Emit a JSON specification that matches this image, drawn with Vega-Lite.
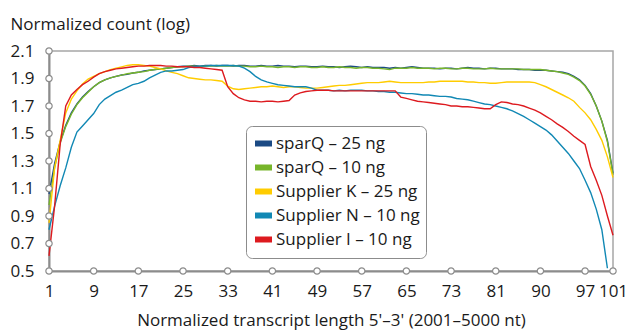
{
 "$schema": "https://vega.github.io/schema/vega-lite/v6.json",
 "width": 564, "height": 220,
 "autosize": "none",
 "padding": {"left": 49, "top": 51, "right": 14, "bottom": 60},
 "background": "white",
 "config": {"font": "Open Sans", "view": {"stroke": "#a6a6a6", "strokeWidth": 1.5}, "axis": {"labelOverlap": false}},
 "datasets": {
  "curves": [
{"series":"sparQ – 25 ng","pos":1,"value":1.06},{"series":"sparQ – 25 ng","pos":2,"value":1.28},{"series":"sparQ – 25 ng","pos":3,"value":1.44},{"series":"sparQ – 25 ng","pos":4,"value":1.56},{"series":"sparQ – 25 ng","pos":5,"value":1.65},{"series":"sparQ – 25 ng","pos":6,"value":1.715},{"series":"sparQ – 25 ng","pos":7,"value":1.765},{"series":"sparQ – 25 ng","pos":8,"value":1.805},{"series":"sparQ – 25 ng","pos":9,"value":1.84},{"series":"sparQ – 25 ng","pos":10,"value":1.87},
{"series":"sparQ – 25 ng","pos":11,"value":1.89},{"series":"sparQ – 25 ng","pos":12,"value":1.905},{"series":"sparQ – 25 ng","pos":13,"value":1.915},{"series":"sparQ – 25 ng","pos":14,"value":1.925},{"series":"sparQ – 25 ng","pos":15,"value":1.93},{"series":"sparQ – 25 ng","pos":16,"value":1.94},{"series":"sparQ – 25 ng","pos":17,"value":1.945},{"series":"sparQ – 25 ng","pos":18,"value":1.955},{"series":"sparQ – 25 ng","pos":19,"value":1.96},{"series":"sparQ – 25 ng","pos":20,"value":1.965},
{"series":"sparQ – 25 ng","pos":21,"value":1.97},{"series":"sparQ – 25 ng","pos":22,"value":1.975},{"series":"sparQ – 25 ng","pos":23,"value":1.98},{"series":"sparQ – 25 ng","pos":24,"value":1.985},{"series":"sparQ – 25 ng","pos":25,"value":1.99},{"series":"sparQ – 25 ng","pos":26,"value":1.99},{"series":"sparQ – 25 ng","pos":27,"value":1.995},{"series":"sparQ – 25 ng","pos":28,"value":1.99},{"series":"sparQ – 25 ng","pos":29,"value":1.995},{"series":"sparQ – 25 ng","pos":30,"value":1.995},
{"series":"sparQ – 25 ng","pos":31,"value":1.99},{"series":"sparQ – 25 ng","pos":32,"value":1.995},{"series":"sparQ – 25 ng","pos":33,"value":1.995},{"series":"sparQ – 25 ng","pos":34,"value":1.99},{"series":"sparQ – 25 ng","pos":35,"value":1.995},{"series":"sparQ – 25 ng","pos":36,"value":1.995},{"series":"sparQ – 25 ng","pos":37,"value":1.99},{"series":"sparQ – 25 ng","pos":38,"value":1.99},{"series":"sparQ – 25 ng","pos":39,"value":1.995},{"series":"sparQ – 25 ng","pos":40,"value":1.99},
{"series":"sparQ – 25 ng","pos":41,"value":1.99},{"series":"sparQ – 25 ng","pos":42,"value":1.995},{"series":"sparQ – 25 ng","pos":43,"value":1.99},{"series":"sparQ – 25 ng","pos":44,"value":1.99},{"series":"sparQ – 25 ng","pos":45,"value":1.985},{"series":"sparQ – 25 ng","pos":46,"value":1.99},{"series":"sparQ – 25 ng","pos":47,"value":1.99},{"series":"sparQ – 25 ng","pos":48,"value":1.985},{"series":"sparQ – 25 ng","pos":49,"value":1.985},{"series":"sparQ – 25 ng","pos":50,"value":1.99},
{"series":"sparQ – 25 ng","pos":51,"value":1.985},{"series":"sparQ – 25 ng","pos":52,"value":1.985},{"series":"sparQ – 25 ng","pos":53,"value":1.98},{"series":"sparQ – 25 ng","pos":54,"value":1.985},{"series":"sparQ – 25 ng","pos":55,"value":1.99},{"series":"sparQ – 25 ng","pos":56,"value":1.985},{"series":"sparQ – 25 ng","pos":57,"value":1.98},{"series":"sparQ – 25 ng","pos":58,"value":1.985},{"series":"sparQ – 25 ng","pos":59,"value":1.98},{"series":"sparQ – 25 ng","pos":60,"value":1.98},
{"series":"sparQ – 25 ng","pos":61,"value":1.98},{"series":"sparQ – 25 ng","pos":62,"value":1.975},{"series":"sparQ – 25 ng","pos":63,"value":1.98},{"series":"sparQ – 25 ng","pos":64,"value":1.975},{"series":"sparQ – 25 ng","pos":65,"value":1.98},{"series":"sparQ – 25 ng","pos":66,"value":1.985},{"series":"sparQ – 25 ng","pos":67,"value":1.98},{"series":"sparQ – 25 ng","pos":68,"value":1.975},{"series":"sparQ – 25 ng","pos":69,"value":1.975},{"series":"sparQ – 25 ng","pos":70,"value":1.975},
{"series":"sparQ – 25 ng","pos":71,"value":1.97},{"series":"sparQ – 25 ng","pos":72,"value":1.975},{"series":"sparQ – 25 ng","pos":73,"value":1.975},{"series":"sparQ – 25 ng","pos":74,"value":1.97},{"series":"sparQ – 25 ng","pos":75,"value":1.975},{"series":"sparQ – 25 ng","pos":76,"value":1.98},{"series":"sparQ – 25 ng","pos":77,"value":1.975},{"series":"sparQ – 25 ng","pos":78,"value":1.975},{"series":"sparQ – 25 ng","pos":79,"value":1.97},{"series":"sparQ – 25 ng","pos":80,"value":1.975},
{"series":"sparQ – 25 ng","pos":81,"value":1.975},{"series":"sparQ – 25 ng","pos":82,"value":1.97},{"series":"sparQ – 25 ng","pos":83,"value":1.97},{"series":"sparQ – 25 ng","pos":84,"value":1.97},{"series":"sparQ – 25 ng","pos":85,"value":1.965},{"series":"sparQ – 25 ng","pos":86,"value":1.965},{"series":"sparQ – 25 ng","pos":87,"value":1.965},{"series":"sparQ – 25 ng","pos":88,"value":1.96},{"series":"sparQ – 25 ng","pos":89,"value":1.96},{"series":"sparQ – 25 ng","pos":90,"value":1.96},
{"series":"sparQ – 25 ng","pos":91,"value":1.955},{"series":"sparQ – 25 ng","pos":92,"value":1.95},{"series":"sparQ – 25 ng","pos":93,"value":1.945},{"series":"sparQ – 25 ng","pos":94,"value":1.935},{"series":"sparQ – 25 ng","pos":95,"value":1.915},{"series":"sparQ – 25 ng","pos":96,"value":1.89},{"series":"sparQ – 25 ng","pos":97,"value":1.85},{"series":"sparQ – 25 ng","pos":98,"value":1.79},{"series":"sparQ – 25 ng","pos":99,"value":1.7},{"series":"sparQ – 25 ng","pos":100,"value":1.59},
{"series":"sparQ – 25 ng","pos":101,"value":1.45},{"series":"sparQ – 25 ng","pos":102,"value":1.21},

{"series":"sparQ – 10 ng","pos":1,"value":0.98},{"series":"sparQ – 10 ng","pos":2,"value":1.25},{"series":"sparQ – 10 ng","pos":3,"value":1.43},{"series":"sparQ – 10 ng","pos":4,"value":1.55},{"series":"sparQ – 10 ng","pos":5,"value":1.64},{"series":"sparQ – 10 ng","pos":6,"value":1.71},{"series":"sparQ – 10 ng","pos":7,"value":1.76},{"series":"sparQ – 10 ng","pos":8,"value":1.8},{"series":"sparQ – 10 ng","pos":9,"value":1.84},{"series":"sparQ – 10 ng","pos":10,"value":1.87},
{"series":"sparQ – 10 ng","pos":11,"value":1.89},{"series":"sparQ – 10 ng","pos":12,"value":1.905},{"series":"sparQ – 10 ng","pos":13,"value":1.915},{"series":"sparQ – 10 ng","pos":14,"value":1.925},{"series":"sparQ – 10 ng","pos":15,"value":1.935},{"series":"sparQ – 10 ng","pos":16,"value":1.94},{"series":"sparQ – 10 ng","pos":17,"value":1.945},{"series":"sparQ – 10 ng","pos":18,"value":1.95},{"series":"sparQ – 10 ng","pos":19,"value":1.96},{"series":"sparQ – 10 ng","pos":20,"value":1.965},
{"series":"sparQ – 10 ng","pos":21,"value":1.97},{"series":"sparQ – 10 ng","pos":22,"value":1.975},{"series":"sparQ – 10 ng","pos":23,"value":1.98},{"series":"sparQ – 10 ng","pos":24,"value":1.985},{"series":"sparQ – 10 ng","pos":25,"value":1.985},{"series":"sparQ – 10 ng","pos":26,"value":1.99},{"series":"sparQ – 10 ng","pos":27,"value":1.99},{"series":"sparQ – 10 ng","pos":28,"value":1.985},{"series":"sparQ – 10 ng","pos":29,"value":1.99},{"series":"sparQ – 10 ng","pos":30,"value":1.99},
{"series":"sparQ – 10 ng","pos":31,"value":1.995},{"series":"sparQ – 10 ng","pos":32,"value":1.99},{"series":"sparQ – 10 ng","pos":33,"value":1.99},{"series":"sparQ – 10 ng","pos":34,"value":1.995},{"series":"sparQ – 10 ng","pos":35,"value":1.99},{"series":"sparQ – 10 ng","pos":36,"value":1.99},{"series":"sparQ – 10 ng","pos":37,"value":1.985},{"series":"sparQ – 10 ng","pos":38,"value":1.985},{"series":"sparQ – 10 ng","pos":39,"value":1.99},{"series":"sparQ – 10 ng","pos":40,"value":1.985},
{"series":"sparQ – 10 ng","pos":41,"value":1.985},{"series":"sparQ – 10 ng","pos":42,"value":1.98},{"series":"sparQ – 10 ng","pos":43,"value":1.985},{"series":"sparQ – 10 ng","pos":44,"value":1.985},{"series":"sparQ – 10 ng","pos":45,"value":1.98},{"series":"sparQ – 10 ng","pos":46,"value":1.985},{"series":"sparQ – 10 ng","pos":47,"value":1.985},{"series":"sparQ – 10 ng","pos":48,"value":1.98},{"series":"sparQ – 10 ng","pos":49,"value":1.98},{"series":"sparQ – 10 ng","pos":50,"value":1.985},
{"series":"sparQ – 10 ng","pos":51,"value":1.98},{"series":"sparQ – 10 ng","pos":52,"value":1.98},{"series":"sparQ – 10 ng","pos":53,"value":1.985},{"series":"sparQ – 10 ng","pos":54,"value":1.98},{"series":"sparQ – 10 ng","pos":55,"value":1.98},{"series":"sparQ – 10 ng","pos":56,"value":1.975},{"series":"sparQ – 10 ng","pos":57,"value":1.98},{"series":"sparQ – 10 ng","pos":58,"value":1.98},{"series":"sparQ – 10 ng","pos":59,"value":1.975},{"series":"sparQ – 10 ng","pos":60,"value":1.975},
{"series":"sparQ – 10 ng","pos":61,"value":1.97},{"series":"sparQ – 10 ng","pos":62,"value":1.965},{"series":"sparQ – 10 ng","pos":63,"value":1.975},{"series":"sparQ – 10 ng","pos":64,"value":1.975},{"series":"sparQ – 10 ng","pos":65,"value":1.975},{"series":"sparQ – 10 ng","pos":66,"value":1.98},{"series":"sparQ – 10 ng","pos":67,"value":1.975},{"series":"sparQ – 10 ng","pos":68,"value":1.975},{"series":"sparQ – 10 ng","pos":69,"value":1.975},{"series":"sparQ – 10 ng","pos":70,"value":1.97},
{"series":"sparQ – 10 ng","pos":71,"value":1.975},{"series":"sparQ – 10 ng","pos":72,"value":1.975},{"series":"sparQ – 10 ng","pos":73,"value":1.97},{"series":"sparQ – 10 ng","pos":74,"value":1.97},{"series":"sparQ – 10 ng","pos":75,"value":1.975},{"series":"sparQ – 10 ng","pos":76,"value":1.975},{"series":"sparQ – 10 ng","pos":77,"value":1.97},{"series":"sparQ – 10 ng","pos":78,"value":1.97},{"series":"sparQ – 10 ng","pos":79,"value":1.97},{"series":"sparQ – 10 ng","pos":80,"value":1.975},
{"series":"sparQ – 10 ng","pos":81,"value":1.97},{"series":"sparQ – 10 ng","pos":82,"value":1.97},{"series":"sparQ – 10 ng","pos":83,"value":1.97},{"series":"sparQ – 10 ng","pos":84,"value":1.97},{"series":"sparQ – 10 ng","pos":85,"value":1.97},{"series":"sparQ – 10 ng","pos":86,"value":1.965},{"series":"sparQ – 10 ng","pos":87,"value":1.965},{"series":"sparQ – 10 ng","pos":88,"value":1.965},{"series":"sparQ – 10 ng","pos":89,"value":1.965},{"series":"sparQ – 10 ng","pos":90,"value":1.96},
{"series":"sparQ – 10 ng","pos":91,"value":1.955},{"series":"sparQ – 10 ng","pos":92,"value":1.95},{"series":"sparQ – 10 ng","pos":93,"value":1.94},{"series":"sparQ – 10 ng","pos":94,"value":1.93},{"series":"sparQ – 10 ng","pos":95,"value":1.91},{"series":"sparQ – 10 ng","pos":96,"value":1.885},{"series":"sparQ – 10 ng","pos":97,"value":1.845},{"series":"sparQ – 10 ng","pos":98,"value":1.785},{"series":"sparQ – 10 ng","pos":99,"value":1.7},{"series":"sparQ – 10 ng","pos":100,"value":1.59},
{"series":"sparQ – 10 ng","pos":101,"value":1.44},{"series":"sparQ – 10 ng","pos":102,"value":1.2},

{"series":"Supplier K – 25 ng","pos":1,"value":0.85},{"series":"Supplier K – 25 ng","pos":2,"value":1.25},{"series":"Supplier K – 25 ng","pos":3,"value":1.45},{"series":"Supplier K – 25 ng","pos":4,"value":1.65},{"series":"Supplier K – 25 ng","pos":5,"value":1.75},{"series":"Supplier K – 25 ng","pos":6,"value":1.81},{"series":"Supplier K – 25 ng","pos":7,"value":1.86},{"series":"Supplier K – 25 ng","pos":8,"value":1.895},{"series":"Supplier K – 25 ng","pos":9,"value":1.915},{"series":"Supplier K – 25 ng","pos":10,"value":1.935},
{"series":"Supplier K – 25 ng","pos":11,"value":1.95},{"series":"Supplier K – 25 ng","pos":12,"value":1.965},{"series":"Supplier K – 25 ng","pos":13,"value":1.975},{"series":"Supplier K – 25 ng","pos":14,"value":1.985},{"series":"Supplier K – 25 ng","pos":15,"value":1.995},{"series":"Supplier K – 25 ng","pos":16,"value":2.0},{"series":"Supplier K – 25 ng","pos":17,"value":2.0},{"series":"Supplier K – 25 ng","pos":18,"value":1.995},{"series":"Supplier K – 25 ng","pos":19,"value":1.99},{"series":"Supplier K – 25 ng","pos":20,"value":1.98},
{"series":"Supplier K – 25 ng","pos":21,"value":1.97},{"series":"Supplier K – 25 ng","pos":22,"value":1.955},{"series":"Supplier K – 25 ng","pos":23,"value":1.945},{"series":"Supplier K – 25 ng","pos":24,"value":1.935},{"series":"Supplier K – 25 ng","pos":25,"value":1.92},{"series":"Supplier K – 25 ng","pos":26,"value":1.905},{"series":"Supplier K – 25 ng","pos":27,"value":1.9},{"series":"Supplier K – 25 ng","pos":28,"value":1.895},{"series":"Supplier K – 25 ng","pos":29,"value":1.89},{"series":"Supplier K – 25 ng","pos":30,"value":1.89},
{"series":"Supplier K – 25 ng","pos":31,"value":1.885},{"series":"Supplier K – 25 ng","pos":32,"value":1.88},{"series":"Supplier K – 25 ng","pos":33,"value":1.845},{"series":"Supplier K – 25 ng","pos":34,"value":1.825},{"series":"Supplier K – 25 ng","pos":35,"value":1.82},{"series":"Supplier K – 25 ng","pos":36,"value":1.825},{"series":"Supplier K – 25 ng","pos":37,"value":1.83},{"series":"Supplier K – 25 ng","pos":38,"value":1.835},{"series":"Supplier K – 25 ng","pos":39,"value":1.84},{"series":"Supplier K – 25 ng","pos":40,"value":1.84},
{"series":"Supplier K – 25 ng","pos":41,"value":1.845},{"series":"Supplier K – 25 ng","pos":42,"value":1.84},{"series":"Supplier K – 25 ng","pos":43,"value":1.835},{"series":"Supplier K – 25 ng","pos":44,"value":1.84},{"series":"Supplier K – 25 ng","pos":45,"value":1.84},{"series":"Supplier K – 25 ng","pos":46,"value":1.835},{"series":"Supplier K – 25 ng","pos":47,"value":1.83},{"series":"Supplier K – 25 ng","pos":48,"value":1.83},{"series":"Supplier K – 25 ng","pos":49,"value":1.83},{"series":"Supplier K – 25 ng","pos":50,"value":1.835},
{"series":"Supplier K – 25 ng","pos":51,"value":1.84},{"series":"Supplier K – 25 ng","pos":52,"value":1.845},{"series":"Supplier K – 25 ng","pos":53,"value":1.85},{"series":"Supplier K – 25 ng","pos":54,"value":1.85},{"series":"Supplier K – 25 ng","pos":55,"value":1.855},{"series":"Supplier K – 25 ng","pos":56,"value":1.86},{"series":"Supplier K – 25 ng","pos":57,"value":1.865},{"series":"Supplier K – 25 ng","pos":58,"value":1.87},{"series":"Supplier K – 25 ng","pos":59,"value":1.87},{"series":"Supplier K – 25 ng","pos":60,"value":1.87},
{"series":"Supplier K – 25 ng","pos":61,"value":1.875},{"series":"Supplier K – 25 ng","pos":62,"value":1.88},{"series":"Supplier K – 25 ng","pos":63,"value":1.875},{"series":"Supplier K – 25 ng","pos":64,"value":1.87},{"series":"Supplier K – 25 ng","pos":65,"value":1.87},{"series":"Supplier K – 25 ng","pos":66,"value":1.87},{"series":"Supplier K – 25 ng","pos":67,"value":1.87},{"series":"Supplier K – 25 ng","pos":68,"value":1.87},{"series":"Supplier K – 25 ng","pos":69,"value":1.875},{"series":"Supplier K – 25 ng","pos":70,"value":1.875},
{"series":"Supplier K – 25 ng","pos":71,"value":1.88},{"series":"Supplier K – 25 ng","pos":72,"value":1.88},{"series":"Supplier K – 25 ng","pos":73,"value":1.88},{"series":"Supplier K – 25 ng","pos":74,"value":1.88},{"series":"Supplier K – 25 ng","pos":75,"value":1.88},{"series":"Supplier K – 25 ng","pos":76,"value":1.875},{"series":"Supplier K – 25 ng","pos":77,"value":1.875},{"series":"Supplier K – 25 ng","pos":78,"value":1.87},{"series":"Supplier K – 25 ng","pos":79,"value":1.87},{"series":"Supplier K – 25 ng","pos":80,"value":1.865},
{"series":"Supplier K – 25 ng","pos":81,"value":1.865},{"series":"Supplier K – 25 ng","pos":82,"value":1.87},{"series":"Supplier K – 25 ng","pos":83,"value":1.875},{"series":"Supplier K – 25 ng","pos":84,"value":1.875},{"series":"Supplier K – 25 ng","pos":85,"value":1.875},{"series":"Supplier K – 25 ng","pos":86,"value":1.875},{"series":"Supplier K – 25 ng","pos":87,"value":1.875},{"series":"Supplier K – 25 ng","pos":88,"value":1.87},{"series":"Supplier K – 25 ng","pos":89,"value":1.855},{"series":"Supplier K – 25 ng","pos":90,"value":1.84},
{"series":"Supplier K – 25 ng","pos":91,"value":1.82},{"series":"Supplier K – 25 ng","pos":92,"value":1.8},{"series":"Supplier K – 25 ng","pos":93,"value":1.78},{"series":"Supplier K – 25 ng","pos":94,"value":1.76},{"series":"Supplier K – 25 ng","pos":95,"value":1.735},{"series":"Supplier K – 25 ng","pos":96,"value":1.69},{"series":"Supplier K – 25 ng","pos":97,"value":1.65},{"series":"Supplier K – 25 ng","pos":98,"value":1.6},{"series":"Supplier K – 25 ng","pos":99,"value":1.53},{"series":"Supplier K – 25 ng","pos":100,"value":1.45},
{"series":"Supplier K – 25 ng","pos":101,"value":1.33},{"series":"Supplier K – 25 ng","pos":102,"value":1.18},

{"series":"Supplier N – 10 ng","pos":1,"value":0.8},{"series":"Supplier N – 10 ng","pos":2,"value":0.97},{"series":"Supplier N – 10 ng","pos":3,"value":1.12},{"series":"Supplier N – 10 ng","pos":4,"value":1.25},{"series":"Supplier N – 10 ng","pos":5,"value":1.4},{"series":"Supplier N – 10 ng","pos":6,"value":1.51},{"series":"Supplier N – 10 ng","pos":7,"value":1.555},{"series":"Supplier N – 10 ng","pos":8,"value":1.6},{"series":"Supplier N – 10 ng","pos":9,"value":1.645},{"series":"Supplier N – 10 ng","pos":10,"value":1.71},
{"series":"Supplier N – 10 ng","pos":11,"value":1.75},{"series":"Supplier N – 10 ng","pos":12,"value":1.775},{"series":"Supplier N – 10 ng","pos":13,"value":1.8},{"series":"Supplier N – 10 ng","pos":14,"value":1.815},{"series":"Supplier N – 10 ng","pos":15,"value":1.835},{"series":"Supplier N – 10 ng","pos":16,"value":1.855},{"series":"Supplier N – 10 ng","pos":17,"value":1.865},{"series":"Supplier N – 10 ng","pos":18,"value":1.88},{"series":"Supplier N – 10 ng","pos":19,"value":1.905},{"series":"Supplier N – 10 ng","pos":20,"value":1.925},
{"series":"Supplier N – 10 ng","pos":21,"value":1.945},{"series":"Supplier N – 10 ng","pos":22,"value":1.955},{"series":"Supplier N – 10 ng","pos":23,"value":1.955},{"series":"Supplier N – 10 ng","pos":24,"value":1.96},{"series":"Supplier N – 10 ng","pos":25,"value":1.965},{"series":"Supplier N – 10 ng","pos":26,"value":1.98},{"series":"Supplier N – 10 ng","pos":27,"value":1.985},{"series":"Supplier N – 10 ng","pos":28,"value":1.99},{"series":"Supplier N – 10 ng","pos":29,"value":1.99},{"series":"Supplier N – 10 ng","pos":30,"value":1.995},
{"series":"Supplier N – 10 ng","pos":31,"value":1.995},{"series":"Supplier N – 10 ng","pos":32,"value":1.995},{"series":"Supplier N – 10 ng","pos":33,"value":1.995},{"series":"Supplier N – 10 ng","pos":34,"value":1.995},{"series":"Supplier N – 10 ng","pos":35,"value":1.99},{"series":"Supplier N – 10 ng","pos":36,"value":1.975},{"series":"Supplier N – 10 ng","pos":37,"value":1.95},{"series":"Supplier N – 10 ng","pos":38,"value":1.915},{"series":"Supplier N – 10 ng","pos":39,"value":1.89},{"series":"Supplier N – 10 ng","pos":40,"value":1.875},
{"series":"Supplier N – 10 ng","pos":41,"value":1.865},{"series":"Supplier N – 10 ng","pos":42,"value":1.855},{"series":"Supplier N – 10 ng","pos":43,"value":1.85},{"series":"Supplier N – 10 ng","pos":44,"value":1.845},{"series":"Supplier N – 10 ng","pos":45,"value":1.84},{"series":"Supplier N – 10 ng","pos":46,"value":1.84},{"series":"Supplier N – 10 ng","pos":47,"value":1.84},{"series":"Supplier N – 10 ng","pos":48,"value":1.83},{"series":"Supplier N – 10 ng","pos":49,"value":1.815},{"series":"Supplier N – 10 ng","pos":50,"value":1.815},
{"series":"Supplier N – 10 ng","pos":51,"value":1.815},{"series":"Supplier N – 10 ng","pos":52,"value":1.81},{"series":"Supplier N – 10 ng","pos":53,"value":1.815},{"series":"Supplier N – 10 ng","pos":54,"value":1.81},{"series":"Supplier N – 10 ng","pos":55,"value":1.815},{"series":"Supplier N – 10 ng","pos":56,"value":1.815},{"series":"Supplier N – 10 ng","pos":57,"value":1.815},{"series":"Supplier N – 10 ng","pos":58,"value":1.81},{"series":"Supplier N – 10 ng","pos":59,"value":1.81},{"series":"Supplier N – 10 ng","pos":60,"value":1.805},
{"series":"Supplier N – 10 ng","pos":61,"value":1.805},{"series":"Supplier N – 10 ng","pos":62,"value":1.8},{"series":"Supplier N – 10 ng","pos":63,"value":1.8},{"series":"Supplier N – 10 ng","pos":64,"value":1.795},{"series":"Supplier N – 10 ng","pos":65,"value":1.79},{"series":"Supplier N – 10 ng","pos":66,"value":1.79},{"series":"Supplier N – 10 ng","pos":67,"value":1.785},{"series":"Supplier N – 10 ng","pos":68,"value":1.78},{"series":"Supplier N – 10 ng","pos":69,"value":1.78},{"series":"Supplier N – 10 ng","pos":70,"value":1.775},
{"series":"Supplier N – 10 ng","pos":71,"value":1.77},{"series":"Supplier N – 10 ng","pos":72,"value":1.77},{"series":"Supplier N – 10 ng","pos":73,"value":1.765},{"series":"Supplier N – 10 ng","pos":74,"value":1.755},{"series":"Supplier N – 10 ng","pos":75,"value":1.75},{"series":"Supplier N – 10 ng","pos":76,"value":1.745},{"series":"Supplier N – 10 ng","pos":77,"value":1.735},{"series":"Supplier N – 10 ng","pos":78,"value":1.725},{"series":"Supplier N – 10 ng","pos":79,"value":1.715},{"series":"Supplier N – 10 ng","pos":80,"value":1.71},
{"series":"Supplier N – 10 ng","pos":81,"value":1.7},{"series":"Supplier N – 10 ng","pos":82,"value":1.69},{"series":"Supplier N – 10 ng","pos":83,"value":1.68},{"series":"Supplier N – 10 ng","pos":84,"value":1.665},{"series":"Supplier N – 10 ng","pos":85,"value":1.645},{"series":"Supplier N – 10 ng","pos":86,"value":1.625},{"series":"Supplier N – 10 ng","pos":87,"value":1.6},{"series":"Supplier N – 10 ng","pos":88,"value":1.575},{"series":"Supplier N – 10 ng","pos":89,"value":1.55},{"series":"Supplier N – 10 ng","pos":90,"value":1.525},
{"series":"Supplier N – 10 ng","pos":91,"value":1.49},{"series":"Supplier N – 10 ng","pos":92,"value":1.445},{"series":"Supplier N – 10 ng","pos":93,"value":1.4},{"series":"Supplier N – 10 ng","pos":94,"value":1.355},{"series":"Supplier N – 10 ng","pos":95,"value":1.3},{"series":"Supplier N – 10 ng","pos":96,"value":1.245},{"series":"Supplier N – 10 ng","pos":97,"value":1.16},{"series":"Supplier N – 10 ng","pos":98,"value":1.07},{"series":"Supplier N – 10 ng","pos":99,"value":0.95},{"series":"Supplier N – 10 ng","pos":100,"value":0.8},
{"series":"Supplier N – 10 ng","pos":101,"value":0.52},

{"series":"Supplier I – 10 ng","pos":1,"value":0.61},{"series":"Supplier I – 10 ng","pos":2,"value":0.97},{"series":"Supplier I – 10 ng","pos":3,"value":1.42},{"series":"Supplier I – 10 ng","pos":4,"value":1.7},{"series":"Supplier I – 10 ng","pos":5,"value":1.78},{"series":"Supplier I – 10 ng","pos":6,"value":1.82},{"series":"Supplier I – 10 ng","pos":7,"value":1.855},{"series":"Supplier I – 10 ng","pos":8,"value":1.88},{"series":"Supplier I – 10 ng","pos":9,"value":1.91},{"series":"Supplier I – 10 ng","pos":10,"value":1.935},
{"series":"Supplier I – 10 ng","pos":11,"value":1.95},{"series":"Supplier I – 10 ng","pos":12,"value":1.96},{"series":"Supplier I – 10 ng","pos":13,"value":1.97},{"series":"Supplier I – 10 ng","pos":14,"value":1.975},{"series":"Supplier I – 10 ng","pos":15,"value":1.98},{"series":"Supplier I – 10 ng","pos":16,"value":1.985},{"series":"Supplier I – 10 ng","pos":17,"value":1.99},{"series":"Supplier I – 10 ng","pos":18,"value":1.99},{"series":"Supplier I – 10 ng","pos":19,"value":1.995},{"series":"Supplier I – 10 ng","pos":20,"value":1.995},
{"series":"Supplier I – 10 ng","pos":21,"value":1.995},{"series":"Supplier I – 10 ng","pos":22,"value":1.99},{"series":"Supplier I – 10 ng","pos":23,"value":1.99},{"series":"Supplier I – 10 ng","pos":24,"value":1.985},{"series":"Supplier I – 10 ng","pos":25,"value":1.985},{"series":"Supplier I – 10 ng","pos":26,"value":1.985},{"series":"Supplier I – 10 ng","pos":27,"value":1.98},{"series":"Supplier I – 10 ng","pos":28,"value":1.98},{"series":"Supplier I – 10 ng","pos":29,"value":1.975},{"series":"Supplier I – 10 ng","pos":30,"value":1.97},
{"series":"Supplier I – 10 ng","pos":31,"value":1.965},{"series":"Supplier I – 10 ng","pos":32,"value":1.96},{"series":"Supplier I – 10 ng","pos":33,"value":1.84},{"series":"Supplier I – 10 ng","pos":34,"value":1.79},{"series":"Supplier I – 10 ng","pos":35,"value":1.76},{"series":"Supplier I – 10 ng","pos":36,"value":1.745},{"series":"Supplier I – 10 ng","pos":37,"value":1.735},{"series":"Supplier I – 10 ng","pos":38,"value":1.735},{"series":"Supplier I – 10 ng","pos":39,"value":1.73},{"series":"Supplier I – 10 ng","pos":40,"value":1.735},
{"series":"Supplier I – 10 ng","pos":41,"value":1.735},{"series":"Supplier I – 10 ng","pos":42,"value":1.73},{"series":"Supplier I – 10 ng","pos":43,"value":1.735},{"series":"Supplier I – 10 ng","pos":44,"value":1.74},{"series":"Supplier I – 10 ng","pos":45,"value":1.78},{"series":"Supplier I – 10 ng","pos":46,"value":1.795},{"series":"Supplier I – 10 ng","pos":47,"value":1.805},{"series":"Supplier I – 10 ng","pos":48,"value":1.81},{"series":"Supplier I – 10 ng","pos":49,"value":1.815},{"series":"Supplier I – 10 ng","pos":50,"value":1.815},
{"series":"Supplier I – 10 ng","pos":51,"value":1.815},{"series":"Supplier I – 10 ng","pos":52,"value":1.81},{"series":"Supplier I – 10 ng","pos":53,"value":1.81},{"series":"Supplier I – 10 ng","pos":54,"value":1.81},{"series":"Supplier I – 10 ng","pos":55,"value":1.81},{"series":"Supplier I – 10 ng","pos":56,"value":1.81},{"series":"Supplier I – 10 ng","pos":57,"value":1.81},{"series":"Supplier I – 10 ng","pos":58,"value":1.81},{"series":"Supplier I – 10 ng","pos":59,"value":1.81},{"series":"Supplier I – 10 ng","pos":60,"value":1.81},
{"series":"Supplier I – 10 ng","pos":61,"value":1.81},{"series":"Supplier I – 10 ng","pos":62,"value":1.81},{"series":"Supplier I – 10 ng","pos":63,"value":1.81},{"series":"Supplier I – 10 ng","pos":64,"value":1.765},{"series":"Supplier I – 10 ng","pos":65,"value":1.755},{"series":"Supplier I – 10 ng","pos":66,"value":1.745},{"series":"Supplier I – 10 ng","pos":67,"value":1.735},{"series":"Supplier I – 10 ng","pos":68,"value":1.73},{"series":"Supplier I – 10 ng","pos":69,"value":1.725},{"series":"Supplier I – 10 ng","pos":70,"value":1.72},
{"series":"Supplier I – 10 ng","pos":71,"value":1.715},{"series":"Supplier I – 10 ng","pos":72,"value":1.71},{"series":"Supplier I – 10 ng","pos":73,"value":1.7},{"series":"Supplier I – 10 ng","pos":74,"value":1.7},{"series":"Supplier I – 10 ng","pos":75,"value":1.695},{"series":"Supplier I – 10 ng","pos":76,"value":1.695},{"series":"Supplier I – 10 ng","pos":77,"value":1.69},{"series":"Supplier I – 10 ng","pos":78,"value":1.685},{"series":"Supplier I – 10 ng","pos":79,"value":1.68},{"series":"Supplier I – 10 ng","pos":80,"value":1.68},
{"series":"Supplier I – 10 ng","pos":81,"value":1.71},{"series":"Supplier I – 10 ng","pos":82,"value":1.73},{"series":"Supplier I – 10 ng","pos":83,"value":1.725},{"series":"Supplier I – 10 ng","pos":84,"value":1.715},{"series":"Supplier I – 10 ng","pos":85,"value":1.71},{"series":"Supplier I – 10 ng","pos":86,"value":1.7},{"series":"Supplier I – 10 ng","pos":87,"value":1.685},{"series":"Supplier I – 10 ng","pos":88,"value":1.67},{"series":"Supplier I – 10 ng","pos":89,"value":1.65},{"series":"Supplier I – 10 ng","pos":90,"value":1.625},
{"series":"Supplier I – 10 ng","pos":91,"value":1.6},{"series":"Supplier I – 10 ng","pos":92,"value":1.57},{"series":"Supplier I – 10 ng","pos":93,"value":1.545},{"series":"Supplier I – 10 ng","pos":94,"value":1.515},{"series":"Supplier I – 10 ng","pos":95,"value":1.48},{"series":"Supplier I – 10 ng","pos":96,"value":1.45},{"series":"Supplier I – 10 ng","pos":97,"value":1.42},{"series":"Supplier I – 10 ng","pos":98,"value":1.26},{"series":"Supplier I – 10 ng","pos":99,"value":1.16},{"series":"Supplier I – 10 ng","pos":100,"value":1.05},
{"series":"Supplier I – 10 ng","pos":101,"value":0.9},{"series":"Supplier I – 10 ng","pos":102,"value":0.76}
  ],
  "ticks": [
{"pos":1,"value":0.5},{"pos":9,"value":0.5},{"pos":17,"value":0.5},{"pos":25,"value":0.5},{"pos":33,"value":0.5},{"pos":41,"value":0.5},{"pos":49,"value":0.5},{"pos":57,"value":0.5},{"pos":65,"value":0.5},{"pos":73,"value":0.5},{"pos":81,"value":0.5},{"pos":89,"value":0.5},{"pos":97,"value":0.5},{"pos":102,"value":0.5},
{"pos":1,"value":0.7},{"pos":1,"value":0.9},{"pos":1,"value":1.1},{"pos":1,"value":1.3},{"pos":1,"value":1.5},{"pos":1,"value":1.7},{"pos":1,"value":1.9},{"pos":1,"value":2.1}
  ]
 },
 "encoding": {
  "x": {"field": "pos", "type": "quantitative",
        "scale": {"domain": [1, 102], "nice": false, "zero": false},
        "axis": {"values": [1,9,17,25,33,41,49,57,65,73,81,89,97,102],
                 "labelExpr": "datum.value == 89 ? '90' : datum.value == 102 ? '101' : datum.label",
                 "title": "Normalized transcript length 5'–3' (2001–5000 nt)",
                 "ticks": false, "grid": false, "domainColor": "#8c8c8c", "domainWidth": 2,
                 "labelFontSize": 17, "labelColor": "#1a1a1a", "labelPadding": 12,
                 "labelOverlap": false, "labelFlush": false,
                 "titleFontSize": 17, "titleFontWeight": "normal", "titleColor": "#1a1a1a",
                 "titleBaseline": "alphabetic", "titleY": 54}},
  "y": {"field": "value", "type": "quantitative",
        "scale": {"domain": [0.5, 2.1], "nice": false, "zero": false},
        "axis": {"values": [0.5,0.7,0.9,1.1,1.3,1.5,1.7,1.9,2.1], "format": ".1f",
                 "title": "Normalized count (log)", "titleAngle": 0, "titleAlign": "left",
                 "titleX": -39, "titleY": -22, "titleBaseline": "alphabetic",
                 "titleFontSize": 17, "titleFontWeight": "normal", "titleColor": "#1a1a1a",
                 "ticks": false, "grid": false, "domainColor": "#8c8c8c", "domainWidth": 2,
                 "labelFontSize": 17, "labelColor": "#1a1a1a", "labelPadding": 15,
                 "labelOverlap": false, "labelFlush": false}}
 },
 "layer": [
  {
   "data": {"name": "curves"},
   "mark": {"type": "line", "strokeWidth": 1.4, "interpolate": "linear"},
   "encoding": {
    "color": {"field": "series", "type": "nominal",
              "scale": {"domain": ["sparQ – 25 ng", "sparQ – 10 ng", "Supplier K – 25 ng", "Supplier N – 10 ng", "Supplier I – 10 ng"],
                        "range": ["#1b4a84", "#77b52a", "#ffcc00", "#1188b4", "#dd1a1f"]},
              "legend": {"title": null, "orient": "none", "legendX": 197, "legendY": 75,
                         "padding": 6, "strokeColor": "#8c8c8c", "cornerRadius": 6, "fillColor": "white",
                         "labelFontSize": 17, "labelColor": "#1a1a1a", "rowPadding": -2,
                         "symbolType": "M-1,0L1,0", "symbolSize": 289, "symbolStrokeWidth": 6,
                         "labelOffset": 1, "labelLimit": 300}}
   }
  },
  {
   "data": {"name": "ticks"},
   "mark": {"type": "point", "shape": "circle", "filled": true, "fill": "white", "stroke": "#8c8c8c", "strokeWidth": 1.2, "size": 40, "opacity": 1}
  }
 ]
}
